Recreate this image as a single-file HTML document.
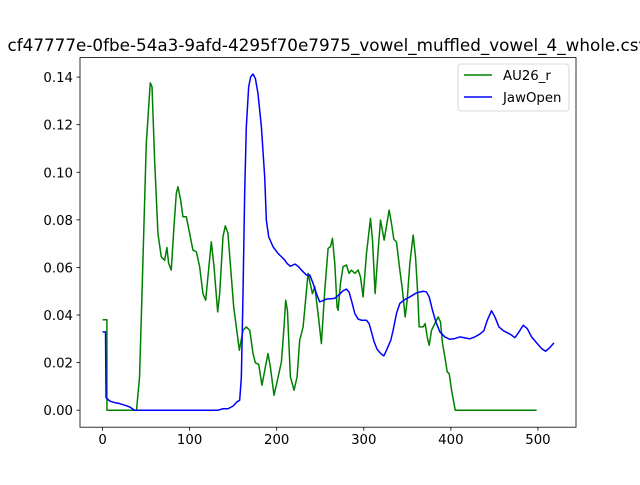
<!DOCTYPE html>
<html><head><meta charset="utf-8"><style>
body{margin:0;background:#fff;width:640px;height:480px;overflow:hidden}
svg{font-family:"DejaVu Sans","Liberation Sans",sans-serif}
</style></head><body>
<svg id="chart" width="640" height="480" viewBox="0 0 640 480" xmlns="http://www.w3.org/2000/svg">
<rect width="640" height="480" fill="#fff"/>
<text x="328" y="51" text-anchor="middle" font-size="16.8">cf47777e-0fbe-54a3-9afd-4295f70e7975_vowel_muffled_vowel_4_whole.csv</text>
<g id="plot"></g>
<rect x="80" y="57.6" width="496" height="369.6" fill="none" stroke="#000" stroke-width="0.8"/>
<g id="legend">
<rect x="458" y="64" width="111" height="47" rx="3" fill="#fff" fill-opacity="0.8" stroke="#ccc" stroke-width="0.8"/>
<line x1="464" y1="75" x2="492" y2="75" stroke="green" stroke-width="1.5"/>
<text x="503" y="80" font-size="13.3">AU26_r</text>
<line x1="464" y1="97" x2="492" y2="97" stroke="blue" stroke-width="1.5"/>
<text x="503" y="102" font-size="13.3">JawOpen</text>
</g>
</svg>
<script>
const xTicks=[0,100,200,300,400,500];
const yTicks=[0,0.02,0.04,0.06,0.08,0.1,0.12,0.14];
const yTickLabels=["0.00","0.02","0.04","0.06","0.08","0.10","0.12","0.14"];
const au26X=[0,5,5,39,42.5,46.4,50.2,54.8,56.8,59.8,63.6,67.4,71.3,73.9,75.9,78.9,82,84.7,86.6,89.7,92.3,96.2,100,103.8,107.7,111.5,115.3,118.4,121,124.9,128,132.2,134.5,138.3,141,144,147.9,150.6,153.6,157.1,161.3,165.1,169,172.8,175.5,179.3,183.1,187,190,192.7,196.9,200.8,205.4,208.4,210.3,212.3,215.7,219.9,223.4,226.4,230.3,236,241,243.7,247.5,251.3,255.2,259,261.7,264,266.7,269.3,270.5,273.2,276.2,280.1,283.1,285.8,289.7,293.5,296.2,299.2,303.1,307.7,310,313,316.5,319.2,323.4,329.1,331.8,334.5,337.5,341.4,344.4,347.5,349.8,352.9,356.7,359.4,361.7,363.6,368.2,370.5,372.8,375.1,377.8,381.6,385.4,388.1,390.4,393.1,395.8,398.1,400.8,405,498.5];
const au26Y=[0.038,0.038,0,0,0.014,0.063,0.112,0.1376,0.136,0.105,0.0743,0.0645,0.063,0.0684,0.0617,0.0589,0.0771,0.0911,0.0939,0.0883,0.0813,0.0813,0.0743,0.0673,0.0666,0.0603,0.049,0.0462,0.056,0.0708,0.0603,0.0413,0.049,0.0729,0.0775,0.0743,0.056,0.0434,0.035,0.0252,0.0336,0.035,0.0336,0.0238,0.0199,0.0193,0.0105,0.0182,0.0238,0.0182,0.0063,0.0126,0.0203,0.035,0.0462,0.042,0.014,0.0084,0.014,0.0294,0.035,0.0575,0.049,0.0519,0.0406,0.028,0.0504,0.068,0.0687,0.0722,0.0617,0.0434,0.042,0.0533,0.0603,0.061,0.0575,0.0589,0.0575,0.0589,0.056,0.0476,0.0659,0.0806,0.0715,0.049,0.0673,0.0799,0.0715,0.0841,0.0785,0.0718,0.0708,0.0589,0.0504,0.0392,0.0462,0.0617,0.0736,0.0645,0.0504,0.035,0.035,0.0364,0.0308,0.0273,0.0336,0.0364,0.0392,0.0371,0.028,0.0224,0.0161,0.0154,0.0084,0,0];
const jawX=[0,3.4,4,8,13.8,19.5,25.3,31,36.8,132.6,138.3,144,149.8,154.4,157.5,159.4,161.3,163.2,165.1,167.8,170.1,172.8,175.5,178.5,182.4,186.2,188.1,190.8,195.8,201.5,205.4,209.2,211.9,215.7,221,224.5,228.4,234.1,238,241.8,245.6,249.4,257.1,266.7,272.4,276.2,280.1,283.1,285.8,289.7,293.5,297.3,303.1,306.1,308.8,311.9,315.3,319.5,323,326.1,331,333.7,337.5,341.4,347.1,352.9,360.5,368.2,372,375.1,378.9,382.8,387.4,393.1,398.9,404.6,410.3,416.1,421.8,427.6,433.3,437.9,441.8,446.7,450.6,455.2,460.2,467.8,473.6,478.2,483.1,487.7,492.7,498.5,504.2,508.8,513.8,518.4];
const jawY=[0.0329,0.0329,0.0053,0.0039,0.0032,0.0028,0.0021,0.0014,0,0,0.0006,0.0006,0.0017,0.0035,0.0042,0.014,0.049,0.0911,0.1191,0.1359,0.1401,0.1413,0.1394,0.1331,0.1191,0.0981,0.0799,0.0729,0.0687,0.0659,0.0645,0.0631,0.0617,0.0605,0.0614,0.0605,0.0589,0.0568,0.0568,0.0533,0.049,0.0455,0.0467,0.047,0.0488,0.0502,0.0509,0.0497,0.0462,0.0406,0.0383,0.0378,0.0378,0.0364,0.0329,0.0287,0.0256,0.0238,0.0228,0.0252,0.0294,0.0336,0.0406,0.0449,0.0465,0.0476,0.0493,0.05,0.0497,0.0476,0.042,0.0371,0.0329,0.0308,0.0298,0.0301,0.0308,0.0304,0.03,0.0308,0.032,0.0334,0.0378,0.0418,0.0392,0.035,0.0334,0.032,0.0305,0.0329,0.0357,0.0343,0.0308,0.0283,0.0259,0.0248,0.0264,0.0283];

const L=80,R=576,T=57.6,B=427.2;
const xMin=-25.9,xMax=543.7,yMin=-0.00715,yMax=0.1482;
const sx=v=>L+(v-xMin)/(xMax-xMin)*(R-L);
const sy=v=>B-(v-yMin)/(yMax-yMin)*(B-T);
const NS="http://www.w3.org/2000/svg";
const g=document.getElementById('plot');
function mk(tag,attrs){const e=document.createElementNS(NS,tag);for(const k in attrs)e.setAttribute(k,attrs[k]);g.appendChild(e);return e;}
xTicks.forEach(v=>{
  const t=mk('line',{x1:sx(v),x2:sx(v),y1:B,y2:B+3.5,stroke:'#000','stroke-width':0.8});
  
  
  const l=mk('text',{x:sx(v),y:B+17,'text-anchor':'middle','font-size':13.3});
  
  
  l.textContent=String(v);
});
yTicks.forEach((v,i)=>{
  const t=mk('line',{x1:L-3.5,x2:L,y1:sy(v),y2:sy(v),stroke:'#000','stroke-width':0.8});
  
  
  const l=mk('text',{x:L-7,y:sy(v)+5,'text-anchor':'end','font-size':13.3});
  
  
  l.textContent=yTickLabels[i];
});
function series(xs,ys,color,name){
  const pts=xs.map((x,i)=>sx(x).toFixed(2)+','+sy(ys[i]).toFixed(2)).join(' ');
  const p=mk('polyline',{points:pts,fill:'none',stroke:color,'stroke-width':1.5,'stroke-linejoin':'round'});
  
  
}
series(au26X,au26Y,'green','au26-line');
series(jawX,jawY,'blue','jawopen-line');
</script>
</body></html>
